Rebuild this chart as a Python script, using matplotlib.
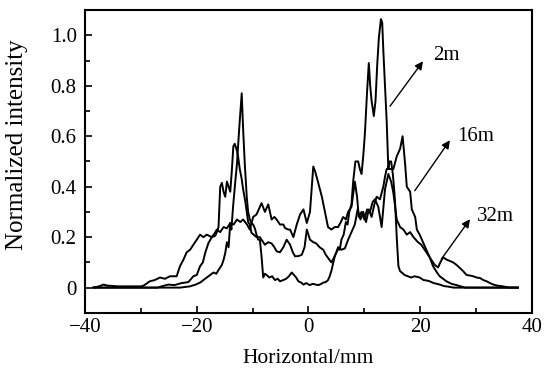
import numpy as np
import matplotlib
matplotlib.use('Agg')
import matplotlib.pyplot as plt
from matplotlib.ticker import MultipleLocator

# perfis de intensidade normalizada
x_2m = [-38.5, -36, -33, -30, -27, -25, -23, -21.2, -20.2, -19.4, -18.8, -18.2, -17.6, -17, -16.5,
        -16.1, -15.8, -15.5, -15.2, -14.9, -14.6, -14.3, -14.0, -13.8, -13.5, -13.1, -12.8, -12.4,
        -11.95, -11.7, -11.4, -11.05, -10.8, -10.5, -10.2, -9.9, -9.6, -9.3, -9.0, -8.7, -8.4, -8.1,
        -7.8, -7.5, -7.0, -6.5, -6.0, -5.5, -5.1, -4.5, -4.0, -3.5, -3.0, -2.6, -2.2, -1.8, -1.3,
        -0.9, -0.4, 0.2, 0.8, 1.3, 1.8, 2.3, 2.65, 3.1, 3.5, 3.8, 4.15, 4.45, 4.7, 5.0, 5.3, 5.6,
        5.9, 6.3, 6.7, 7.0, 7.3, 7.7, 8.0, 8.4, 8.9, 9.2, 9.5, 9.8, 10.1, 10.5, 10.8, 11.05, 11.3,
        11.7, 12.0, 12.3, 12.6, 12.97, 13.2, 13.4, 13.7, 14.0, 14.3, 14.5, 14.8, 15.1, 15.3, 15.5,
        15.8, 16.1, 16.4, 16.7, 17.2, 17.8, 18.4, 19.0, 19.9, 20.6, 21.2, 21.7, 22.4, 23.0, 23.5,
        24.3, 25.0, 26.0, 30, 34, 37.5]
y_2m = [0, 0, 0, 0, 0, 0, 0, 0.005, 0.012, 0.02, 0.03, 0.04, 0.05, 0.06, 0.055,
        0.07, 0.08, 0.09, 0.11, 0.137, 0.18, 0.16, 0.256, 0.23, 0.32, 0.42, 0.49, 0.63,
        0.77, 0.63, 0.49, 0.36, 0.3, 0.27, 0.256, 0.25, 0.235, 0.21, 0.19, 0.19, 0.124, 0.04,
        0.055, 0.05, 0.04, 0.045, 0.03, 0.035, 0.025, 0.03, 0.035, 0.045, 0.06, 0.05, 0.04, 0.025, 0.02,
        0.012, 0.018, 0.01, 0.015, 0.012, 0.01, 0.015, 0.02, 0.022, 0.03, 0.045, 0.07, 0.1, 0.124, 0.14, 0.16, 0.15,
        0.19, 0.21, 0.26, 0.25, 0.3, 0.33, 0.42, 0.5, 0.5, 0.47, 0.45, 0.52, 0.61, 0.78, 0.89, 0.8, 0.74,
        0.68, 0.74, 0.88, 0.99, 1.064, 1.05, 0.94, 0.8, 0.66, 0.47, 0.5, 0.5, 0.45, 0.4, 0.34,
        0.2, 0.085, 0.065, 0.06, 0.05, 0.045, 0.04, 0.045, 0.04, 0.03, 0.028, 0.025, 0.018, 0.015, 0.012,
        0.006, 0.004, 0, 0, 0, 0]

x_16m = [-38.5, -34, -30, -27, -26.3, -25.1, -24, -22.7, -21.5, -20.6, -20, -19.4, -18.9, -18.5,
         -17.9, -17.3, -16.7, -16.4, -16.1, -15.8, -15.5, -15.2, -14.9, -14.6, -14.3, -14.0, -13.7,
         -13.45, -13.2, -12.9, -12.6, -12.3, -11.95, -11.7, -11.3, -10.8, -10.5, -10.2, -9.8, -9.3,
         -8.7, -8.4, -7.8, -7.2, -6.6, -6.1, -5.7, -5.1, -4.5, -3.9, -3.3, -2.8, -2.4, -1.8, -1.2,
         -0.7, -0.3, 0.27, 0.86, 1.4, 2.0, 2.65, 3.1, 3.5, 4.1, 4.6, 5.0, 5.5, 5.9, 6.5, 7.1, 7.7,
         8.3, 8.8, 9.3, 9.8, 10.3, 10.8, 11.3, 11.8, 12.2, 12.8, 13.4, 13.7, 14.0, 14.6, 15.2, 15.8,
         16.4, 16.85, 17.3, 17.6, 18.2, 18.5, 19.1, 19.4, 19.9, 20.3, 21.1, 21.7, 22.3, 23.0, 23.5,
         24.1, 24.7, 25.6, 26.5, 28, 32, 37.5]
y_16m = [0, 0, 0, 0, 0.005, 0.012, 0.01, 0.018, 0.022, 0.045, 0.05, 0.085, 0.1, 0.137,
         0.177, 0.2, 0.205, 0.22, 0.24, 0.4, 0.415, 0.38, 0.36, 0.42, 0.4, 0.38, 0.47,
         0.56, 0.57, 0.55, 0.52, 0.47, 0.43, 0.39, 0.34, 0.26, 0.25, 0.217, 0.21, 0.2,
         0.2, 0.19, 0.17, 0.18, 0.175, 0.16, 0.144, 0.14, 0.16, 0.19, 0.17, 0.14, 0.124, 0.125, 0.13,
         0.16, 0.23, 0.19, 0.18, 0.175, 0.16, 0.15, 0.13, 0.118, 0.1, 0.12, 0.14, 0.16, 0.15, 0.155, 0.19, 0.22,
         0.25, 0.31, 0.27, 0.3, 0.26, 0.31, 0.28, 0.33, 0.36, 0.35, 0.4, 0.44, 0.47, 0.47, 0.47, 0.52,
         0.55, 0.6, 0.49, 0.4, 0.38, 0.31, 0.28, 0.23, 0.21, 0.19, 0.15, 0.12, 0.085, 0.06, 0.045,
         0.035, 0.025, 0.015, 0.01, 0, 0, 0]

x_32m = [-38.5, -37.5, -36.7, -36, -34, -32, -30, -29.5, -28.4, -27.5, -26.6, -25.7, -24.8, -23.6,
         -23, -22.4, -21.8, -21.2, -20.6, -20, -19.4, -18.8, -18.2, -17.3, -16.8, -16.4, -15.8, -15.2,
         -14.6, -14, -13.4, -12.8, -12.2, -11.7, -11, -10.5, -9.9, -9.3, -8.7, -8.4, -7.8, -7.2, -6.6,
         -6.1, -5.7, -5.1, -4.5, -4.2, -3.6, -3.3, -2.7, -2.1, -1.5, -1.2, -0.9, -0.3, 0.27, 0.86, 1.2,
         1.75, 2.4, 2.95, 3.5, 4.1, 4.7, 5.3, 5.8, 6.2, 6.7, 7.1, 7.7, 8.3, 8.7, 9.0, 9.5, 10.0, 10.5,
         11.0, 11.5, 11.9, 12.5, 13.1, 13.7, 14.3, 14.8, 15.2, 15.8, 16.4, 17.0, 17.6, 18.2, 18.8, 19.6,
         20.2, 20.8, 21.4, 22.0, 22.6, 23.2, 23.6, 24.1, 24.8, 25.4, 25.9, 26.5, 27.1, 27.7, 28.3, 28.9,
         29.5, 30.1, 30.7, 31.3, 31.9, 32.5, 33.1, 33.8, 34.8, 36, 37.5]
y_32m = [0, 0.005, 0.012, 0.008, 0.005, 0.005, 0.005, 0.008, 0.025, 0.03, 0.04, 0.035, 0.045, 0.045,
         0.085, 0.11, 0.14, 0.15, 0.17, 0.19, 0.21, 0.2, 0.21, 0.2, 0.215, 0.23, 0.22, 0.24,
         0.235, 0.256, 0.25, 0.27, 0.26, 0.27, 0.25, 0.23, 0.28, 0.29, 0.32, 0.335, 0.3, 0.33, 0.27,
         0.28, 0.27, 0.25, 0.25, 0.236, 0.23, 0.23, 0.2, 0.25, 0.29, 0.3, 0.31, 0.256, 0.3, 0.48, 0.46,
         0.415, 0.36, 0.3, 0.24, 0.23, 0.24, 0.24, 0.26, 0.28, 0.27, 0.3, 0.32, 0.42, 0.36, 0.28, 0.3, 0.27, 0.31,
         0.3, 0.34, 0.35, 0.32, 0.24, 0.39, 0.45, 0.42, 0.375, 0.27, 0.24, 0.23, 0.21, 0.22, 0.2, 0.18,
         0.17, 0.15, 0.13, 0.11, 0.09, 0.08, 0.1, 0.12, 0.11, 0.105, 0.1, 0.09, 0.078, 0.065, 0.05, 0.048,
         0.045, 0.04, 0.038, 0.03, 0.025, 0.018, 0.012, 0.008, 0.005, 0, 0]

y_ticks = [0, 0.2, 0.4, 0.6, 0.8, 1.0]
y_tick_labels = ['0', '0.2', '0.4', '0.6', '0.8', '1.0']
x_ticks = [-40, -20, 0, 20, 40]

# rótulos das curvas: (texto, ponta da seta, início da seta, posição do texto)
rotulos = [
    ('2m', (20.8, 0.906), (14.3, 0.71), (24.6, 0.92)),
    ('16m', (25.6, 0.593), (18.75, 0.375), (29.9, 0.60)),
    ('32m', (29.2, 0.28), (23.5, 0.104), (33.4, 0.28)),
]


def main():
    plt.rcParams['font.family'] = 'Liberation Serif'
    plt.rcParams['font.size'] = 15

    fig = plt.figure(figsize=(5.45, 3.72), dpi=100)
    ax = fig.add_axes([0.156, 0.159, 0.820, 0.814])

    for xs, ys in [(x_2m, y_2m), (x_16m, y_16m), (x_32m, y_32m)]:
        ax.plot(xs, ys, color='black', linewidth=1.4)

    for texto, ponta, inicio, pos in rotulos:
        ax.annotate('', xy=ponta, xytext=inicio,
                    arrowprops=dict(arrowstyle='-|>', color='black', lw=1.0, mutation_scale=12))
        ax.text(pos[0], pos[1], texto, ha='center', va='center', fontsize=15)

    ax.set_xlim(-40, 40)
    ax.set_ylim(-0.1, 1.1)
    ax.set_xticks(x_ticks)
    ax.set_yticks(y_ticks)
    ax.set_yticklabels(y_tick_labels)
    ax.xaxis.set_minor_locator(MultipleLocator(10))
    ax.yaxis.set_minor_locator(MultipleLocator(0.1))
    ax.tick_params(which='both', direction='in', top=False, right=False, width=1.2)
    ax.tick_params(which='major', length=5, labelsize=15)
    ax.tick_params(axis='y', which='major', pad=6)
    ax.tick_params(which='minor', length=3.5)
    for s in ax.spines.values():
        s.set_linewidth(1.5)

    ax.set_xlabel('Horizontal/mm', fontsize=15.5, labelpad=9)
    ax.set_ylabel('Normalized intensity', fontsize=18)
    # rótulo do eixo y um pouco acima do centro, como no original
    ax.yaxis.set_label_coords(-0.128, 0.555)

    fig.savefig('out.png', dpi=100)


if __name__ == "__main__":
    main()
